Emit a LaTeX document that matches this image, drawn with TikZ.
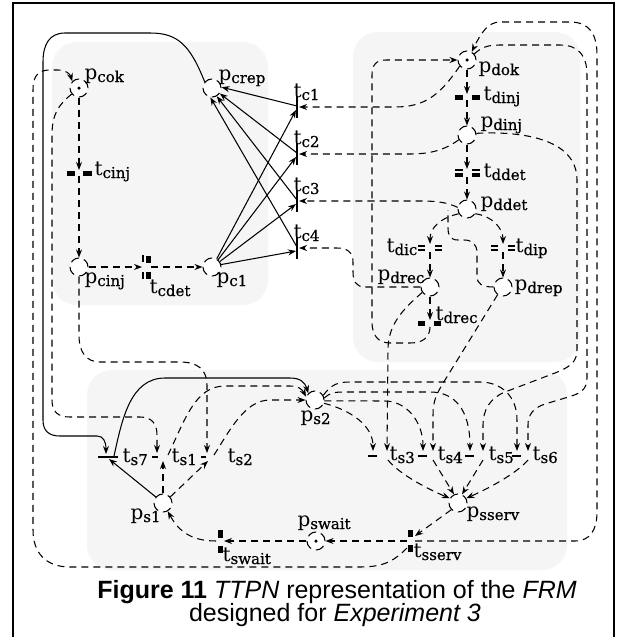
\documentclass[tikz,border=0pt]{standalone}
\usepackage{fontspec}
\setmainfont{DejaVu Serif}
\newfontfamily\subfont[FakeBold=0.6]{DejaVu Serif}
\newfontfamily\capfont{Liberation Sans}
\usetikzlibrary{arrows.meta,calc}
\newcommand\sbs[1]{\raisebox{-3pt}{\subfont\fontsize{15}{15}\selectfont #1}}
\begin{document}
\begin{tikzpicture}[x=1pt,y=-1pt,
 line width=1.05pt,
 dsh/.style={dash pattern=on 7pt off 5pt},
 arr/.style={-{Stealth[length=8pt,width=6pt]}},
 place/.style={circle,minimum size=18pt,inner sep=0pt,fill=white,draw,line width=1.05pt,dash pattern=on 9pt off 5pt},
 lab/.style={anchor=base west,inner sep=0pt,font=\fontsize{20}{20}\selectfont},
 tok/.style={circle,fill=black,inner sep=0pt,minimum size=3.5pt},
 region/.style={fill=black!4,rounded corners=25pt,draw=none},
 capt/.style={anchor=base,inner sep=0pt,font=\capfont\fontsize{25}{27}\selectfont},
]
\useasboundingbox (0,0) rectangle (626,637);
\fill[white] (0,0) rectangle (626,637);
\draw[line width=1.4pt] (13,640) -- (13,3) -- (614,3) -- (614,640);
% regions
\fill[region] (52,42) rectangle (268,305);
\fill[region] (353,32) rectangle (580,362);
\fill[region] (87,370) rectangle (567,570);

% transition coordinates
\coordinate (tcinj) at (79,173);
\coordinate (tcdet) at (148,267);
\coordinate (tc1) at (297,107);
\coordinate (tc2) at (297,154);
\coordinate (tc3) at (297,201);
\coordinate (tc4) at (297,248);
\coordinate (tdinj) at (467,97);
\coordinate (tddet) at (467,174);
\coordinate (tdic) at (430,248);
\coordinate (tdip) at (503,248);
\coordinate (tdrec) at (430,323);
\coordinate (ts7) at (108,457);
\coordinate (ts1) at (160,457);
\coordinate (ts2) at (210,457);
\coordinate (ts3) at (380,455);
\coordinate (ts4) at (428,455);
\coordinate (ts5) at (477,455);
\coordinate (ts6) at (522,455);
\coordinate (tswait) at (220,541);
\coordinate (tsserv) at (410,541);

% places (named positions first)
\coordinate (cpcok) at (79,88);
\coordinate (cpcrep) at (212,88);
\coordinate (cpcinj) at (79,267);
\coordinate (cpc1) at (212,267);
\coordinate (cpdok) at (467,60);
\coordinate (cpdinj) at (467,135);
\coordinate (cpddet) at (467,209);
\coordinate (cpdrec) at (430,287);
\coordinate (cpdrep) at (503,287);
\coordinate (cps2) at (315,400);
\coordinate (cps1) at (163,503);
\coordinate (cpswait) at (316,541);
\coordinate (cpsserv) at (458,503);
\foreach \n in {pcok,pcrep,pcinj,pc1,pdok,pdinj,pddet,pdrec,pdrep,ps2,ps1,pswait,psserv}
  \node[circle,minimum size=18pt,inner sep=0pt] (\n) at (c\n) {};

% transition bars
\fill ($(tcinj)+(-12,-2)$) rectangle ($(tcinj)+(-4,3)$);
\fill ($(tcinj)+(4,-2)$) rectangle ($(tcinj)+(13,3)$);
\fill ($(tcdet)+(-2,-11)$) rectangle ($(tcdet)+(3,-4)$);
\fill ($(tcdet)+(-2,5)$) rectangle ($(tcdet)+(3,12)$);
\draw ($(tcdet)+(-5,-12)$) -- ($(tcdet)+(-5,-5)$) ($(tcdet)+(-5,5)$) -- ($(tcdet)+(-5,12)$);
\foreach \t in {tc1,tc2,tc3,tc4} \draw ($(\t)+(0,-11)$) -- ($(\t)+(0,11)$);
\fill ($(tdinj)+(-12,-2)$) rectangle ($(tdinj)+(-4,3)$);
\fill ($(tdinj)+(5,-2)$) rectangle ($(tdinj)+(13,3)$);
\fill ($(tddet)+(-12,-1)$) rectangle ($(tddet)+(-4,3)$);
\fill ($(tddet)+(5,-1)$) rectangle ($(tddet)+(13,3)$);
\draw ($(tddet)+(-12,-4)$) -- ($(tddet)+(-4,-4)$) ($(tddet)+(5,-4)$) -- ($(tddet)+(13,-4)$);
\foreach \t in {tdic,tdip} \draw ($(\t)+(-12,-2)$) -- ($(\t)+(-5,-2)$) ($(\t)+(-12,2)$) -- ($(\t)+(-5,2)$) ($(\t)+(5,-2)$) -- ($(\t)+(12,-2)$) ($(\t)+(5,2)$) -- ($(\t)+(12,2)$);
\fill ($(tdrec)+(-12,-2)$) rectangle ($(tdrec)+(-5,3)$);
\fill ($(tdrec)+(4,-2)$) rectangle ($(tdrec)+(11,3)$);
\draw ($(ts7)+(-10,0)$) -- ($(ts7)+(10,0)$);
\draw ($(ts1)+(-8,0)$) -- ($(ts1)+(-2,0)$);
\draw ($(ts2)+(-9,0)$) -- ($(ts2)+(-4,0)$);
\draw ($(ts3)+(-12,1)$) -- ($(ts3)+(-3,1)$);
\draw ($(ts4)+(-10,1)$) -- ($(ts4)+(-1,1)$);
\draw ($(ts5)+(-12,1)$) -- ($(ts5)+(-3,1)$);
\draw ($(ts6)+(-10,1)$) -- ($(ts6)+(-1,1)$);
\fill ($(tswait)+(-2,-11)$) rectangle ($(tswait)+(3,-3)$);
\fill ($(tswait)+(-2,5)$) rectangle ($(tswait)+(3,12)$);
\fill ($(tsserv)+(-2,-11)$) rectangle ($(tsserv)+(3,-4)$);
\fill ($(tsserv)+(-2,4)$) rectangle ($(tsserv)+(3,11)$);

% ---- solid arcs
\foreach \t/\a in {tc1/60,tc2/50,tc3/35,tc4/15}
  \draw[arr] (pc1.\a) -- ($(\t)+(-1,3)$);
\foreach \t/\a in {tc1/5,tc2/-35,tc3/-60,tc4/-100}
  \draw[arr] ($(\t)+(0,-1)$) -- (pcrep.\a);
\draw[arr] (pcrep.140) .. controls (190,45) and (178,33) .. (150,33) -- (65,33) .. controls (49,33) and (43,45) .. (43,62) -- (43,420) .. controls (43,431) and (49,436) .. (60,436) -- (97,436) .. controls (103,436) and (106,441) .. ($(ts7)+(-2,-3)$);
\draw[arr] (ps1.140) -- ($(ts7)+(1,2)$);
\draw[arr] ($(ts7)+(6,-1)$) .. controls (122,420) and (130,378) .. (165,378) -- (290,378) .. controls (300,378) and (305,382) .. (ps2.135);

% ---- dashed arcs
\begin{scope}[dsh]
\draw[arr] (pcok.south) -- ($(tcinj)+(0,-3)$);
\draw[arr] ($(tcinj)+(0,3)$) -- (pcinj.north);
\draw[arr] (pcinj.east) -- ($(tcdet)+(-6,0)$);
\draw[arr] ($(tcdet)+(3,0)$) -- (pc1.west);
\draw[arr] (pcok.-140) .. controls (58,105) and (52,115) .. (52,135) -- (52,400) .. controls (52,412) and (58,417) .. (70,417) -- (140,417) .. controls (152,417) and (157,424) .. (157,435) -- ($(ts1)+(-3,-4)$);
\draw[arr] (pcinj.south) -- (79,335) .. controls (79,352) and (86,362) .. (100,362) -- (180,362) .. controls (198,362) and (207,370) .. (207,385) -- ($(ts2)+(-3,-4)$);
\draw[arr] (ps1.north) -- ($(ts1)+(3,4)$);
\draw[arr] ($(ts1)+(8,-2)$) .. controls (185,420) and (195,386) .. (225,386) -- (290,386) .. controls (298,386) and (302,389) .. (ps2.160);
\draw[arr] (ps1.40) -- ($(ts2)+(-2,4)$);
\draw[arr] ($(ts2)+(4,-2)$) .. controls (230,430) and (245,400) .. (270,400) -- (ps2.west);
\draw[arr] ($(tswait)+(-4,0)$) .. controls (190,541) and (178,530) .. (ps1.-60);
\draw[arr] (pswait.west) -- ($(tswait)+(4,0)$);
\draw[arr] ($(tsserv)+(-3,0)$) -- (pswait.east);
\draw[arr] (psserv.-135) -- ($(tsserv)+(5,-5)$);
\draw[arr] ($(tsserv)+(5,0)$) -- (575,541) .. controls (590,541) and (597,530) .. (597,512) -- (597,55) .. controls (597,35) and (590,22) .. (570,22) -- (500,22) .. controls (488,22) and (481,33) .. (pdok.60);
\draw[arr] ($(tsserv)+(-3,7)$) .. controls (395,560) and (385,567) .. (360,567) -- (70,567) .. controls (45,567) and (33,552) .. (33,530) -- (33,90) .. controls (33,76) and (38,70) .. (50,70) -- (58,70) .. controls (66,70) and (70,74) .. (pcok.135);
\draw[arr] (pdok.south) -- ($(tdinj)+(0,-3)$);
\draw[arr] ($(tdinj)+(0,3)$) -- (pdinj.north);
\draw[arr] (pdinj.south) -- ($(tddet)+(0,-5)$);
\draw[arr] ($(tddet)+(0,3)$) -- (pddet.north);
\draw[arr] (pddet.-150) .. controls (440,218) and (430,228) .. ($(tdic)+(0,-4)$);
\draw[arr] (pddet.-30) .. controls (492,216) and (503,228) .. ($(tdip)+(0,-4)$);
\draw[arr] ($(tdic)+(0,4)$) -- (pdrec.north);
\draw[arr] ($(tdip)+(0,4)$) -- (pdrep.north);
\draw[arr] (pdrec.south) -- ($(tdrec)+(0,-3)$);
\draw[arr] ($(tdrec)+(0,4)$) .. controls (430,338) and (422,343) .. (410,343) -- (390,343) .. controls (378,343) and (372,335) .. (372,322) -- (372,75) .. controls (372,65) and (376,60) .. (386,60) -- (pdok.west);
\draw[arr] (pdok.-140) .. controls (440,95) and (425,107) .. (395,107) -- ($(tc1)+(2,0)$);
\draw[arr] (pdinj.-150) .. controls (445,150) and (430,154) .. (410,154) -- ($(tc2)+(2,0)$);
\draw[arr] (pddet.170) .. controls (448,203) and (440,201) .. (420,201) -- ($(tc3)+(2,0)$);
\draw[arr] (pdrec.west) -- (365,287) .. controls (356,287) and (353,281) .. (353,272) -- (353,262) .. controls (353,252) and (347,248) .. (337,248) -- ($(tc4)+(2,0)$);
\draw (pdrep.west) .. controls (482,287) and (477,284) .. (477,276) -- (477,253) .. controls (477,244) and (472,240) .. (464,240) -- (458,240) .. controls (451,240) and (448,236) .. (448,228) -- (448,210);
\draw[arr] (pdrec.-145) .. controls (402,310) and (388,325) .. (388,350) -- ($(ts3)+(7,-4)$);
\draw[arr] (pdrep.-125) -- (445,380) .. controls (437,393) and (433,400) .. (433,415) -- ($(ts4)+(5,-4)$);
\draw[arr] (pdinj.10) .. controls (520,131) and (577,138) .. (577,180) -- (577,350) .. controls (577,362) and (570,367) .. (555,373) -- (505,392) .. controls (490,398) and (483,410) .. (483,425) -- ($(ts5)+(6,-4)$);
\draw[arr] (pdok.40) .. controls (482,47) and (488,45) .. (500,45) -- (560,45) .. controls (578,45) and (587,55) .. (587,75) -- (587,378) .. controls (587,390) and (580,394) .. (565,398) -- (545,404) .. controls (533,408) and (528,415) .. (528,425) -- ($(ts6)+(6,-4)$);
\draw[arr] (ps2.30) .. controls (332,384) and (338,382) .. (350,382) -- (480,382) .. controls (500,382) and (517,395) .. (517,420) -- ($(ts6)+(-5,-4)$);
\draw[arr] (ps2.12) .. controls (330,393) and (333,392) .. (345,392) -- (430,392) .. controls (455,392) and (470,410) .. ($(ts5)+(-7,-4)$);
\draw[arr] (ps2.-5) -- (385,401) .. controls (405,401) and (423,420) .. ($(ts4)+(-5,-4)$);
\draw[arr] (ps2.-20) .. controls (350,410) and (373,425) .. ($(ts3)+(-7,-4)$);
\draw[arr] ($(ts3)+(8,5)$) .. controls (400,475) and (430,490) .. (psserv.150);
\draw[arr] ($(ts4)+(5,5)$) -- (psserv.115);
\draw[arr] ($(ts5)+(6,5)$) -- (psserv.65);
\draw[arr] ($(ts6)+(6,5)$) .. controls (515,475) and (485,490) .. (psserv.30);
\end{scope}

% place circles on top
\foreach \n in {pcok,pcrep,pcinj,pc1,pdok,pdinj,pddet,pdrec,pdrep,ps2,ps1,pswait,psserv}
  \node[place] (\n-c) at (c\n) {};
\node[tok] (tokcok) at (pcok) {};
\node[tok] (tokdok) at (pdok) {};
\node[tok] (tokswait) at (pswait) {};

% labels
\node[lab] (lpcok) at (84,79) {p\sbs{cok}};
\node[lab] (lpcrep) at (218,80) {p\sbs{crep}};
\node[lab] (ltc1) at (293,97) {t\sbs{c1}};
\node[lab] (ltc2) at (293,144) {t\sbs{c2}};
\node[lab] (ltc3) at (293,191) {t\sbs{c3}};
\node[lab] (ltc4) at (293,238) {t\sbs{c4}};
\node[lab] (ltcinj) at (94,175) {t\sbs{cinj}};
\node[lab] (lpcinj) at (84,283) {p\sbs{cinj}};
\node[lab] (ltcdet) at (149,293) {t\sbs{cdet}};
\node[lab] (lpc1) at (216,283) {p\sbs{c1}};
\node[lab] (lpdok) at (478,72) {p\sbs{dok}};
\node[lab] (ltdinj) at (483,100) {t\sbs{dinj}};
\node[lab] (lpdinj) at (480,127) {p\sbs{dinj}};
\node[lab] (ltddet) at (483,177) {t\sbs{ddet}};
\node[lab] (lpddet) at (480,207) {p\sbs{ddet}};
\node[lab] (ltdic) at (386,252) {t\sbs{dic}};
\node[lab] (ltdip) at (515,252) {t\sbs{dip}};
\node[lab] (lpdrec) at (377,280) {p\sbs{drec}};
\node[lab] (lpdrep) at (514,290) {p\sbs{drep}};
\node[lab] (ltdrec) at (435,320) {t\sbs{drec}};
\node[lab] (lps2) at (300,421) {p\sbs{s2}};
\node[lab] (lts7) at (122,462) {t\sbs{s7}};
\node[lab] (lts1) at (171,462) {t\sbs{s1}};
\node[lab] (lts2) at (227,462) {t\sbs{s2}};
\node[lab] (lts3) at (389,460) {t\sbs{s3}};
\node[lab] (lts4) at (437,460) {t\sbs{s4}};
\node[lab] (lts5) at (488,460) {t\sbs{s5}};
\node[lab] (lts6) at (532,460) {t\sbs{s6}};
\node[lab] (lps1) at (130,519) {p\sbs{s1}};
\node[lab] (lpswait) at (297,526) {p\sbs{swait}};
\node[lab] (lpsserv) at (466,517) {p\sbs{sserv}};
\node[lab] (ltswait) at (222,561) {t\sbs{swait}};
\node[lab] (ltsserv) at (413,557) {t\sbs{sserv}};

% caption
\node[capt] (cap1) at (337,598) {\textbf{Figure 11} \textit{TTPN} representation of the \textit{FRM}};
\node[capt] (cap2) at (335,621) {designed for \textit{Experiment 3}};
\end{tikzpicture}
\end{document}
